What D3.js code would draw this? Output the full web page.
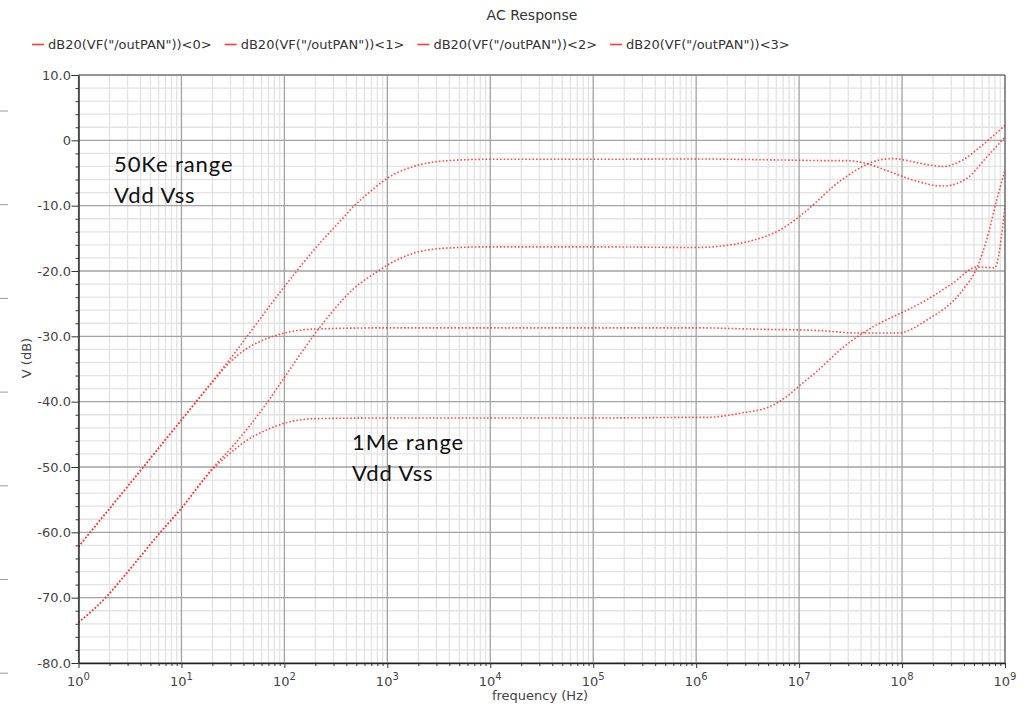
<!DOCTYPE html>
<html>
<head>
<meta charset="utf-8">
<script src="https://cdn.jsdelivr.net/npm/d3@7"></script>
<style>
  html, body { margin: 0; padding: 0; background: #fff; }
  svg { display: block; }
  svg text { font-family: "DejaVu Sans", Verdana, sans-serif; }
  svg text.note { font-family: Lato, "Open Sans", sans-serif; }
</style>
</head>
<body>
<svg id="chart" width="1034" height="707"></svg>
<script>
// ---- chart text ----
const chartTitle = "AC Response";
const xAxisTitle = "frequency (Hz)";
const yAxisTitle = "V (dB)";
const seriesLabels = [
  'dB20(VF("/outPAN"))<0>',
  'dB20(VF("/outPAN"))<1>',
  'dB20(VF("/outPAN"))<2>',
  'dB20(VF("/outPAN"))<3>'
];

// ---- axis ticks ----
const xDecadeExponents = [0, 1, 2, 3, 4, 5, 6, 7, 8, 9];
const yTickValues = [10, 0, -10, -20, -30, -40, -50, -60, -70, -80];
const yTickLabels = ["10.0", "0", "-10.0", "-20.0", "-30.0", "-40.0", "-50.0", "-60.0", "-70.0", "-80.0"];

// ---- series: frequency (Hz) and magnitude (dB) ----
const freq0 = [1, 4.37, 10, 31.6, 100, 219, 347, 479, 724, 1000, 1995, 3981, 1e4, 1e5, 1e6,
  6.03e6, 1.86e7, 2.88e7, 4.37e7, 7.59e7, 1.29e8, 2.51e8, 4.27e8, 6.61e8, 1e9];
const db0 = [-62.2, -49.8, -42.8, -32.9, -22.4, -15.8, -12.4, -10.0, -7.5, -5.8, -3.8, -3.1, -2.9, -2.9, -2.85,
  -3.0, -3.1, -3.1, -3.5, -4.8, -6.1, -7.0, -5.8, -2.6, 0.5];

const freq1 = [1, 1.86, 2.95, 6.17, 10, 20, 31.6, 67.6, 100, 219, 457, 851, 1000, 1778, 3715, 1e4, 1e5, 1e6,
  1.7e6, 3.55e6, 6.03e6, 1e7, 1.48e7, 2.09e7, 3.24e7, 4.37e7, 6.03e7, 8.13e7, 9.55e7, 1.48e8, 2.51e8, 3.89e8, 5.75e8, 1e9];
const db1 = [-73.8, -69.9, -66.2, -60.1, -56.3, -50.2, -46.8, -40.2, -36.3, -28.7, -22.9, -19.8, -19.1, -17.3, -16.5, -16.3, -16.3, -16.4,
  -16.2, -15.3, -14.0, -11.7, -9.4, -7.2, -5.0, -3.8, -3.0, -2.8, -2.9, -3.5, -4.0, -3.0, -1.0, 2.3];

const freq2 = [1, 4.37, 10, 20, 29.5, 42.7, 61.7, 100, 186, 1000, 1e4, 1e5, 1e6,
  3.72e6, 1.48e7, 3.89e7, 9.12e7, 1.74e8, 3.89e8, 5.37e8, 6.61e8, 8.32e8, 1e9];
const db2 = [-62.2, -49.8, -42.8, -37.0, -34.0, -31.9, -30.6, -29.5, -28.9, -28.7, -28.7, -28.7, -28.7,
  -28.9, -29.1, -29.5, -29.5, -27.5, -22.9, -19.4, -15.3, -9.1, -4.5];

const freq3 = [1, 1.86, 2.95, 6.17, 10, 20, 28.2, 38.9, 67.6, 100, 204, 1000, 1e4, 1e5, 1e6,
  1.26e6, 2.82e6, 5.13e6, 7.59e6, 1e7, 1.58e7, 2.45e7, 4.07e7, 6.03e7, 1.02e8, 1.74e8, 3.09e8, 5.37e8, 7.94e8, 1e9];
const db3 = [-73.8, -69.9, -66.2, -60.1, -56.3, -50.4, -48.2, -46.4, -44.3, -43.3, -42.6, -42.5, -42.5, -42.5, -42.4,
  -42.4, -41.7, -40.8, -39.2, -37.6, -35.0, -32.2, -29.6, -28.0, -26.3, -24.4, -21.9, -19.4, -19.5, -10.0];

// ---- annotations ----
const noteLines50K = ["50Ke range", "Vdd Vss"];
const noteLines1M = ["1Me range", "Vdd Vss"];

// ---------------------------------------------------------------
const svg = d3.select("#chart");
const W = 1034, H = 707;
const plot = { left: 78.5, right: 1005, top: 75, bottom: 663 };

const x = d3.scaleLog().domain([1, 1e9]).range([plot.left, plot.right]);
const y = d3.scaleLinear().domain([-80, 10]).range([plot.bottom, plot.top]);

const series = [
  { name: seriesLabels[0], f: freq0, v: db0 },
  { name: seriesLabels[1], f: freq1, v: db1 },
  { name: seriesLabels[2], f: freq2, v: db2 },
  { name: seriesLabels[3], f: freq3, v: db3 }
];

const traceColor = "#ff2b2b";

svg.append("rect").attr("width", W).attr("height", H).attr("fill", "#fff");

// small rule marks along the far left edge
svg.append("g").selectAll("line")
  .data(d3.range(111, 700, 93.7))
  .join("line")
  .attr("x1", 0).attr("x2", 8)
  .attr("y1", d => d).attr("y2", d => d)
  .attr("stroke", "#9a9a9a").attr("stroke-width", 1);

// ---- grid ----
const grid = svg.append("g");
const minorX = d3.range(0, 9).flatMap(k => d3.range(2, 10).map(m => m * Math.pow(10, k)));
const majorX = xDecadeExponents.map(e => Math.pow(10, e));
const minorY = d3.range(-80, 10.001, 2).filter(v => v % 10 !== 0);

grid.selectAll(".gx-minor").data(minorX).join("line")
  .attr("x1", d => x(d)).attr("x2", d => x(d))
  .attr("y1", plot.top).attr("y2", plot.bottom)
  .attr("stroke", "#e3e3e3").attr("stroke-width", 1.3);
grid.selectAll(".gy-minor").data(minorY).join("line")
  .attr("x1", plot.left).attr("x2", plot.right)
  .attr("y1", d => y(d)).attr("y2", d => y(d))
  .attr("stroke", "#e3e3e3").attr("stroke-width", 1.3);
grid.selectAll(".gx-major").data(majorX).join("line")
  .attr("x1", d => x(d)).attr("x2", d => x(d))
  .attr("y1", plot.top).attr("y2", plot.bottom)
  .attr("stroke", "#a3a3a3").attr("stroke-width", 1.3);
grid.selectAll(".gy-major").data(yTickValues).join("line")
  .attr("x1", plot.left).attr("x2", plot.right)
  .attr("y1", d => y(d)).attr("y2", d => y(d))
  .attr("stroke", "#a3a3a3").attr("stroke-width", 1.3);

// ---- traces ----
const line = d3.line()
  .x(d => x(d[0]))
  .y(d => y(d[1]))
  .curve(d3.curveMonotoneX);

svg.append("g").selectAll("path")
  .data(series)
  .join("path")
  .attr("d", s => line(s.f.map((f, i) => [f, s.v[i]])))
  .attr("fill", "none")
  .attr("stroke", traceColor)
  .attr("stroke-opacity", 0.85)
  .attr("stroke-width", 1.6)
  .attr("stroke-dasharray", "1.6 2");

// ---- frame ----
svg.append("line")
  .attr("x1", plot.left).attr("x2", plot.right)
  .attr("y1", plot.top).attr("y2", plot.top)
  .attr("stroke", "#6e6e6e").attr("stroke-width", 1.2);
svg.append("line")
  .attr("x1", plot.right).attr("x2", plot.right)
  .attr("y1", plot.top).attr("y2", plot.bottom)
  .attr("stroke", "#6e6e6e").attr("stroke-width", 1.2);

// ---- y axis ----
const yMinorAxis = d3.axisLeft(y).tickValues(minorY).tickSize(3).tickFormat("").tickSizeOuter(0);
const yMinorG = svg.append("g").attr("transform", `translate(${plot.left},0)`).call(yMinorAxis);
yMinorG.select(".domain").remove();
yMinorG.selectAll("line").attr("stroke", "#333");

const yAxis = d3.axisLeft(y)
  .tickValues(yTickValues)
  .tickFormat((d, i) => yTickLabels[i])
  .tickSize(7)
  .tickPadding(0.5)
  .tickSizeOuter(0);
const yG = svg.append("g").attr("transform", `translate(${plot.left},0)`).call(yAxis);
yG.select(".domain").attr("stroke", "#222").attr("stroke-width", 1.4);
yG.selectAll(".tick line").attr("stroke", "#333");
yG.selectAll(".tick text")
  .attr("font-size", 13)
  .attr("fill", "#444");

// ---- x axis ----
const xMinorAxis = d3.axisBottom(x).tickValues(minorX).tickSize(3).tickFormat("").tickSizeOuter(0);
const xMinorG = svg.append("g").attr("transform", `translate(0,${plot.bottom})`).call(xMinorAxis);
xMinorG.select(".domain").remove();
xMinorG.selectAll("line").attr("stroke", "#333");

const xAxis = d3.axisBottom(x).tickValues(majorX).tickSize(5).tickFormat("").tickSizeOuter(0);
const xG = svg.append("g").attr("transform", `translate(0,${plot.bottom})`).call(xAxis);
xG.select(".domain").attr("stroke", "#222").attr("stroke-width", 1.4);
xG.selectAll(".tick line").attr("stroke", "#333");

// decade labels written as 10 with a superscript exponent
const xLabels = svg.append("g")
  .selectAll("text")
  .data(xDecadeExponents)
  .join("text")
  .attr("x", e => x(Math.pow(10, e)))
  .attr("y", 686)
  .attr("text-anchor", "middle")
  .attr("font-size", 13)
  .attr("fill", "#444");
xLabels.append("tspan").text("10");
xLabels.append("tspan").attr("dy", -6).attr("font-size", 10).text(e => e);

// ---- axis titles ----
svg.append("text")
  .attr("x", 540).attr("y", 700)
  .attr("text-anchor", "middle")
  .attr("font-size", 13)
  .attr("fill", "#444")
  .text(xAxisTitle);

svg.append("text")
  .attr("transform", "translate(31,358) rotate(-90)")
  .attr("text-anchor", "middle")
  .attr("font-size", 13)
  .attr("fill", "#444")
  .text(yAxisTitle);

// ---- title ----
svg.append("text")
  .attr("x", 532).attr("y", 20)
  .attr("text-anchor", "middle")
  .attr("font-size", 14)
  .attr("fill", "#333")
  .text(chartTitle);

// ---- legend ----
const legend = svg.append("g");
let lx = 32;
series.forEach(s => {
  const g = legend.append("g");
  g.append("line")
    .attr("x1", lx).attr("x2", lx + 12)
    .attr("y1", 44.5).attr("y2", 44.5)
    .attr("stroke", "#ff3b3b").attr("stroke-width", 1.6);
  const t = g.append("text")
    .attr("x", lx + 16).attr("y", 49)
    .attr("font-size", 13)
    .attr("fill", "#333")
    .text(s.name);
  lx += 16 + t.node().getComputedTextLength() + 13;
});

// ---- annotations ----
function note(lines, x0, y0) {
  svg.append("g").selectAll("text")
    .data(lines)
    .join("text")
    .attr("class", "note")
    .attr("x", x0)
    .attr("y", (d, i) => y0 + i * 31)
    .attr("font-size", 22)
    .attr("letter-spacing", 0.9)
    .attr("fill", "#111")
    .text(d => d);
}
note(noteLines50K, 114, 172);
note(noteLines1M, 352, 450);
</script>
</body>
</html>
